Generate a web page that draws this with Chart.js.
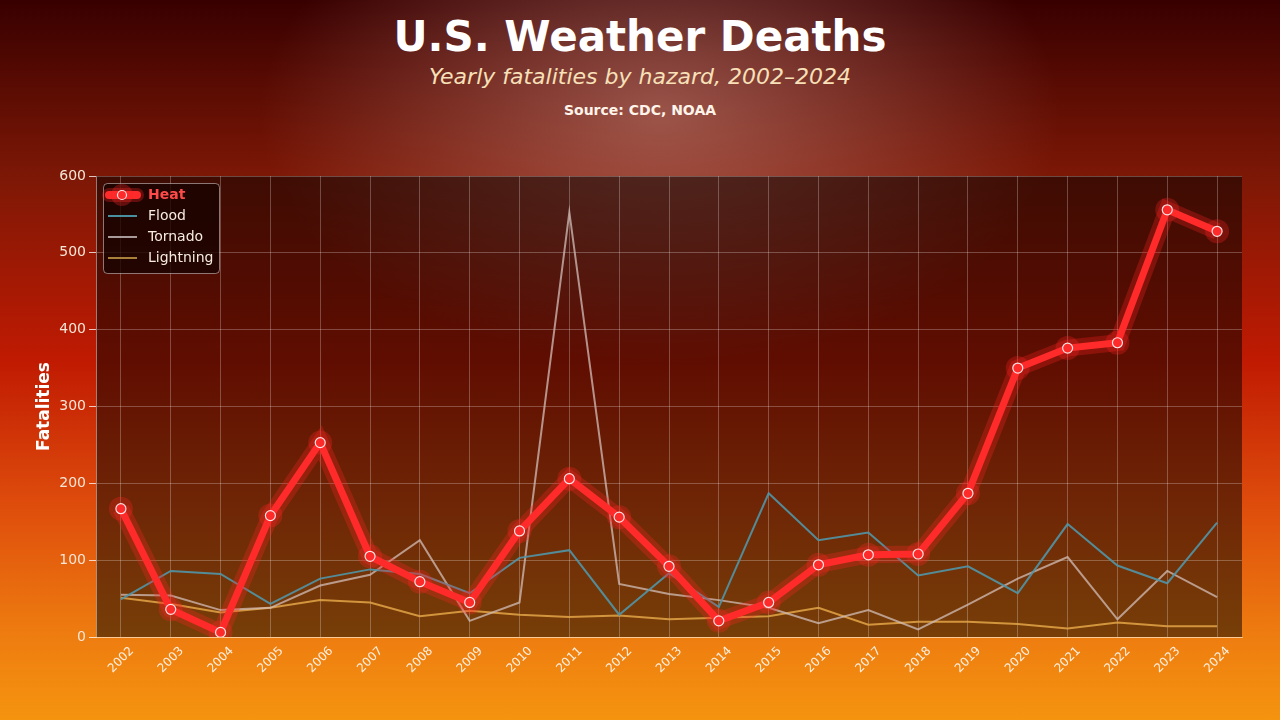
<!DOCTYPE html>
<html>
<head>
<meta charset="utf-8">
<script src="https://cdn.jsdelivr.net/npm/chart.js@4.4.1/dist/chart.umd.min.js"></script>
<style>
  html, body { margin: 0; padding: 0; }
  body {
    width: 1280px; height: 720px; overflow: hidden; position: relative;
    font-family: "DejaVu Sans", sans-serif;
    background:
      radial-gradient(ellipse 400px 250px at 660px 115px, rgba(200,140,130,0.55) 0%, rgba(200,140,130,0) 100%),
      linear-gradient(to bottom, #380000 0%, #7e1806 25%, #c01a02 50%, #de4c0c 70%, #ee7c10 88%, #f5940f 100%);
  }
  #titulos { position: absolute; left: 0; top: 0; width: 1280px; text-align: center; color: #fff; }
  #titulos h1 { margin: 0; position: absolute; top: 12px; width: 100%; font-size: 42px; font-weight: bold; line-height: 50px; }
  #titulos h2 { margin: 0; position: absolute; top: 62px; width: 100%; font-size: 22px; font-weight: normal; font-style: italic; color: #f8e0b8; line-height: 30px; }
  #titulos p { margin: 0; position: absolute; top: 101px; width: 100%; font-size: 14px; font-weight: bold; color: #fff4ea; line-height: 18px; }
  #grafico { position: absolute; left: 0; top: 0; }
</style>
</head>
<body>
<div id="titulos">
  <h1>U.S. Weather Deaths</h1>
  <h2>Yearly fatalities by hazard, 2002–2024</h2>
  <p>Source: CDC, NOAA</p>
</div>
<canvas id="grafico" width="1280" height="720"></canvas>
<script>
var anos = ['2002','2003','2004','2005','2006','2007','2008','2009','2010','2011','2012',
            '2013','2014','2015','2016','2017','2018','2019','2020','2021','2022','2023','2024'];
var calor    = [167, 36, 6, 158, 253, 105, 72, 45, 138, 206, 156, 92, 21, 45, 94, 107, 108, 187, 350, 376, 383, 556, 528];
var cheias   = [49, 86, 82, 43, 76, 88, 82, 57, 103, 113, 29, 83, 39, 187, 126, 136, 80, 92, 57, 147, 93, 70, 149];
var tornados = [55, 54, 35, 38, 67, 81, 126, 21, 45, 553, 69, 56, 48, 38, 18, 35, 10, 42, 76, 104, 23, 86, 52];
var raios    = [51, 43, 32, 38, 48, 45, 27, 34, 29, 26, 28, 23, 25, 27, 38, 16, 20, 20, 17, 11, 19, 14, 14];
var ticksY   = [0, 100, 200, 300, 400, 500, 600];

var corCalor = '#ff2a2a';
var corCheia = 'rgba(80,150,168,0.9)';
var corTornado = 'rgba(210,190,184,0.75)';
var corRaio = 'rgba(226,165,70,0.85)';

// fundo escuro da area do grafico
var fundoArea = {
  id: 'fundoArea',
  beforeDraw: function(chart) {
    var a = chart.chartArea, ctx = chart.ctx;
    ctx.save();
    ctx.fillStyle = 'rgba(0,0,0,0.5)';
    ctx.fillRect(a.left, a.top, a.right - a.left, a.bottom - a.top);
    ctx.restore();
  }
};

// legenda desenhada a mao dentro da area
var legenda = {
  id: 'legenda',
  beforeDatasetsDraw: function(chart) {
    var ctx = chart.ctx;
    var x = chart.chartArea.left + 7, y = chart.chartArea.top + 7;
    ctx.save();
    ctx.beginPath();
    ctx.roundRect(x + 0.5, y + 0.5, 116, 90, 4);
    ctx.fillStyle = 'rgba(22,2,0,0.78)';
    ctx.fill();
    ctx.strokeStyle = 'rgba(255,255,255,0.45)';
    ctx.lineWidth = 1;
    ctx.stroke();

    var itens = [
      { nome: 'Heat', cor: corCalor },
      { nome: 'Flood', cor: '#4a8fa0' },
      { nome: 'Tornado', cor: '#a89a98' },
      { nome: 'Lightning', cor: '#a8803a' }
    ];
    itens.forEach(function(it, i) {
      var ly = y + 12 + i * 21;
      if (i === 0) {
        ctx.lineCap = 'round';
        ctx.strokeStyle = 'rgba(255,40,40,0.3)';
        ctx.lineWidth = 14;
        ctx.beginPath(); ctx.moveTo(x + 6, ly); ctx.lineTo(x + 34, ly); ctx.stroke();
        ctx.strokeStyle = corCalor;
        ctx.lineWidth = 8;
        ctx.beginPath(); ctx.moveTo(x + 6, ly); ctx.lineTo(x + 34, ly); ctx.stroke();
        ctx.fillStyle = 'rgba(255,40,40,0.3)';
        ctx.beginPath(); ctx.arc(x + 19, ly, 11, 0, Math.PI * 2); ctx.fill();
        ctx.fillStyle = corCalor;
        ctx.strokeStyle = '#ffe4e4';
        ctx.lineWidth = 1.2;
        ctx.beginPath(); ctx.arc(x + 19, ly, 4.5, 0, Math.PI * 2); ctx.fill(); ctx.stroke();
        ctx.font = 'bold 14px "DejaVu Sans"';
        ctx.fillStyle = '#ff4a4a';
      } else {
        ctx.lineCap = 'butt';
        ctx.strokeStyle = it.cor;
        ctx.lineWidth = 2;
        ctx.beginPath(); ctx.moveTo(x + 5, ly); ctx.lineTo(x + 34, ly); ctx.stroke();
        ctx.font = '14px "DejaVu Sans"';
        ctx.fillStyle = '#f5ecdf';
      }
      ctx.textBaseline = 'middle';
      ctx.textAlign = 'left';
      ctx.fillText(it.nome, x + 45, ly);
    });
    ctx.restore();
  }
};

var grafico = new Chart(document.getElementById('grafico').getContext('2d'), {
  type: 'line',
  data: {
    labels: anos,
    datasets: [{
      label: 'Heat',
      data: calor,
      borderColor: corCalor,
      borderWidth: 7,
      pointRadius: 5,
      pointBackgroundColor: corCalor,
      pointBorderColor: '#ffe4e4',
      pointBorderWidth: 1.2,
      order: 0
    }, {
      label: 'Heat glow',
      data: calor,
      borderColor: 'rgba(255,35,35,0.28)',
      borderWidth: 17,
      pointRadius: 12,
      pointBackgroundColor: 'rgba(255,35,35,0.28)',
      pointBorderWidth: 0,
      order: 1
    }, {
      label: 'Flood',
      data: cheias,
      borderColor: corCheia,
      borderWidth: 2,
      pointRadius: 0,
      order: 2
    }, {
      label: 'Tornado',
      data: tornados,
      borderColor: corTornado,
      borderWidth: 2,
      pointRadius: 0,
      order: 3
    }, {
      label: 'Lightning',
      data: raios,
      borderColor: corRaio,
      borderWidth: 2,
      pointRadius: 0,
      order: 4
    }]
  },
  options: {
    responsive: false,
    animation: false,
    tension: 0,
    layout: { padding: { top: 176, right: 38, left: 0, bottom: 0 } },
    plugins: {
      legend: { display: false },
      tooltip: { enabled: false }
    },
    scales: {
      x: {
        offset: true,
        grid: { offset: false, color: 'rgba(255,255,255,0.25)', tickLength: 4, tickColor: 'rgba(0,0,0,0)' },
        border: { color: 'rgba(255,225,190,0.65)', width: 1 },
        ticks: {
          color: '#fff0e2',
          font: { family: 'DejaVu Sans', size: 12 },
          minRotation: 45,
          maxRotation: 45,
          labelOffset: 11,
          autoSkip: false
        },
        afterFit: function(scale) { scale.height = 83; }
      },
      y: {
        min: ticksY[0],
        max: ticksY[ticksY.length - 1],
        afterBuildTicks: function(scale) {
          scale.ticks = ticksY.map(function(v) { return { value: v }; });
        },
        grid: { color: 'rgba(255,255,255,0.25)', tickLength: 7, tickColor: 'rgba(255,255,255,0.75)' },
        border: { color: 'rgba(255,255,255,0.45)', width: 1 },
        ticks: {
          color: '#f5e6d6',
          font: { family: 'DejaVu Sans', size: 14 },
          padding: 3
        },
        title: {
          display: true,
          text: 'Fatalities',
          color: '#ffffff',
          font: { family: 'DejaVu Sans', size: 17, weight: 'bold' },
          padding: { top: 34, bottom: 0 }
        },
        afterFit: function(scale) { scale.width = 96; }
      }
    }
  },
  plugins: [fundoArea, legenda]
});
</script>
</body>
</html>
